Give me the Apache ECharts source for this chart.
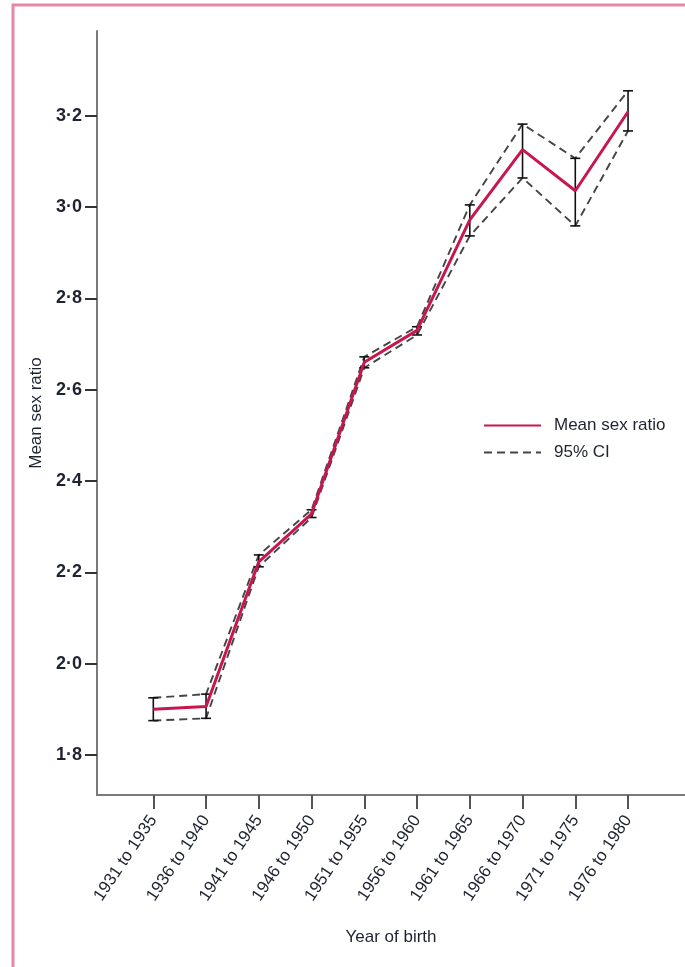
<!DOCTYPE html>
<html>
<head>
<meta charset="utf-8">
<script src="https://cdn.jsdelivr.net/npm/echarts@6/dist/echarts.min.js"></script>
<style>
  html, body { margin: 0; padding: 0; background: #fff; }
  #chart { width: 685px; height: 967px; }
</style>
</head>
<body>
<div id="chart"></div>
<script>
var dom = document.getElementById("chart");
var myChart = echarts.init(dom);

// year of birth groups
const cohorts = ['1931 to 1935', '1936 to 1940', '1941 to 1945', '1946 to 1950', '1951 to 1955',
                 '1956 to 1960', '1961 to 1965', '1966 to 1970', '1971 to 1975', '1976 to 1980'];
// mean sex ratio and 95% CI
const meanRatio = [1.900, 1.906, 2.223, 2.328, 2.660, 2.730, 2.972, 3.126, 3.036, 3.209];
const ciUpper   = [1.925, 1.933, 2.238, 2.337, 2.672, 2.738, 3.005, 3.182, 3.107, 3.255];
const ciLower   = [1.875, 1.880, 2.212, 2.320, 2.648, 2.720, 2.937, 3.064, 2.959, 3.167];
const yTicks = [1.8, 2.0, 2.2, 2.4, 2.6, 2.8, 3.0, 3.2];
const xTicks = [1, 2, 3, 4, 5, 6, 7, 8, 9, 10];

const font = '"Liberation Sans", Arial, sans-serif';
const textCol = '#1f2230';

function pts(arr) {
  return arr.map(function (v, i) { return [i + 1, v]; });
}

var errData = meanRatio.map(function (v, i) { return [i + 1, ciLower[i], ciUpper[i]]; });

var option = {
  animation: false,
  textStyle: { fontFamily: font },
  graphic: [{
    type: 'polyline',
    shape: { points: [[13, 967], [13, 5], [685, 5]] },
    style: { stroke: '#e48aa6', lineWidth: 3, fill: null },
    silent: true
  }],
  grid: { left: 97, right: 0, top: 31, bottom: 172 },
  legend: {
    orient: 'vertical',
    left: 478,
    top: 412,
    itemWidth: 57,
    itemHeight: 14,
    itemGap: 10,
    itemStyle: { opacity: 0 },
    data: ['Mean sex ratio', '95% CI'],
    textStyle: { fontFamily: font, fontSize: 17, color: textCol, padding: [0, 0, 0, 8] }
  },
  xAxis: {
    type: 'value',
    min: -0.0675,
    max: 11.08,
    name: 'Year of birth',
    nameLocation: 'middle',
    nameGap: 134,
    nameTextStyle: { fontFamily: font, fontSize: 17, color: textCol },
    splitLine: { show: false },
    axisLine: { show: true, onZero: false, lineStyle: { color: '#7a7a7a', width: 2 } },
    axisTick: { show: true, length: 14, customValues: xTicks, lineStyle: { color: '#555', width: 2 } },
    axisLabel: {
      customValues: xTicks,
      rotate: 56,
      margin: 22,
      fontFamily: font,
      fontSize: 17,
      color: textCol,
      formatter: function (v) { return cohorts[Math.round(v) - 1] || ''; }
    }
  },
  yAxis: {
    type: 'value',
    min: 1.712,
    max: 3.386,
    name: 'Mean sex ratio',
    nameLocation: 'middle',
    nameGap: 50,
    nameTextStyle: { fontFamily: font, fontSize: 17, color: textCol },
    splitLine: { show: false },
    axisLine: { show: true, onZero: false, lineStyle: { color: '#7a7a7a', width: 2 } },
    axisTick: { show: true, length: 12, customValues: yTicks, lineStyle: { color: '#333', width: 2 } },
    axisLabel: {
      customValues: yTicks,
      margin: 15,
      fontFamily: font,
      fontSize: 18,
      fontWeight: 'bold',
      color: textCol,
      formatter: function (v) { return v.toFixed(1).replace('.', '·'); }
    }
  },
  series: [
    {
      name: '95% CI',
      type: 'line',
      data: pts(ciUpper),
      symbol: 'none',
      lineStyle: { color: '#444', width: 1.9, type: [8, 5] },
      z: 2
    },
    {
      name: '95% CI',
      type: 'line',
      data: pts(ciLower),
      symbol: 'none',
      lineStyle: { color: '#444', width: 1.9, type: [8, 5] },
      z: 2
    },
    {
      name: 'CI bars',
      type: 'custom',
      data: errData,
      encode: { x: 0, y: [1, 2] },
      z: 3,
      renderItem: function (params, api) {
        var x = api.value(0);
        var lo = api.coord([x, api.value(1)]);
        var hi = api.coord([x, api.value(2)]);
        var w = 5;
        var st = { stroke: '#111', lineWidth: 1.6 };
        return {
          type: 'group',
          children: [
            { type: 'line', shape: { x1: lo[0], y1: lo[1], x2: hi[0], y2: hi[1] }, style: st },
            { type: 'line', shape: { x1: lo[0] - w, y1: lo[1], x2: lo[0] + w, y2: lo[1] }, style: st },
            { type: 'line', shape: { x1: hi[0] - w, y1: hi[1], x2: hi[0] + w, y2: hi[1] }, style: st }
          ]
        };
      }
    },
    {
      name: 'Mean sex ratio',
      type: 'line',
      data: pts(meanRatio),
      symbol: 'none',
      lineStyle: { color: '#c8174f', width: 3 },
      z: 4
    }
  ]
};

myChart.setOption(option);
</script>
</body>
</html>
